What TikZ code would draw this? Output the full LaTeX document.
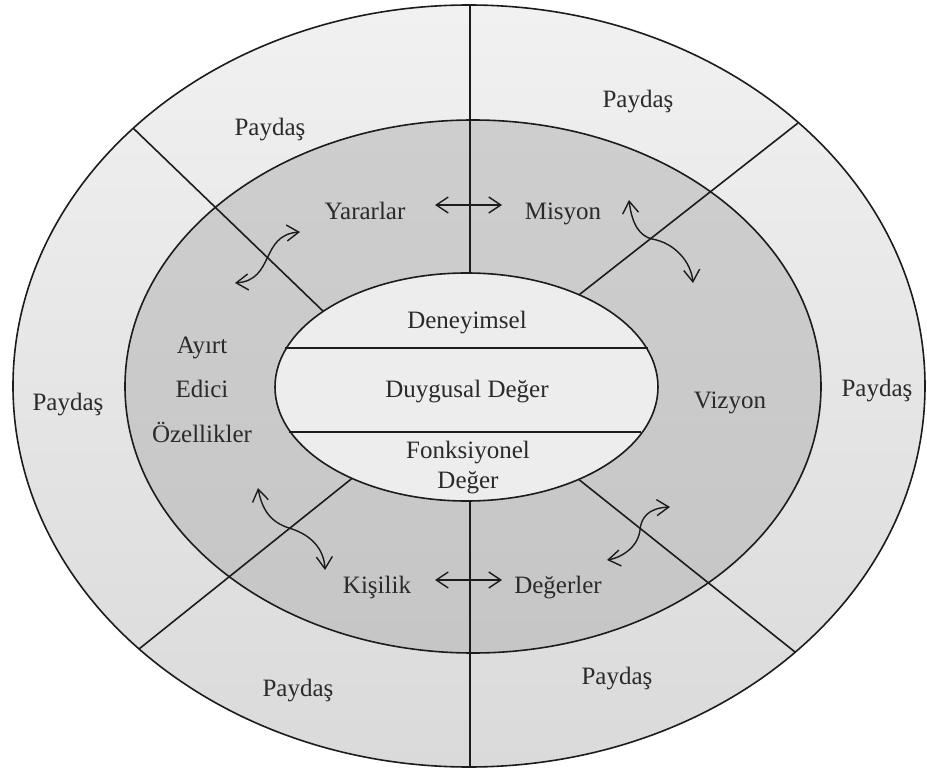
\documentclass[tikz,border=0pt]{standalone}
\usepackage{fontspec}
\setmainfont{Liberation Serif}
\usetikzlibrary{arrows.meta}
\definecolor{outerTop}{HTML}{F1F1F1}
\definecolor{outerBot}{HTML}{DADADA}
\definecolor{midTop}{HTML}{CECECE}
\definecolor{midBot}{HTML}{C6C6C6}
\definecolor{coreFill}{HTML}{EDEDED}
\definecolor{ink}{HTML}{1C1C1C}
\definecolor{txt}{HTML}{2A2A2A}
\begin{document}
\begin{tikzpicture}[x=1pt,y=-1pt,
  lbl/.style={font=\fontsize{25}{28}\selectfont, text=txt, inner sep=0pt, anchor=base},
  rim/.style={draw=ink, line width=1.6pt},
  divider/.style={draw=ink, line width=1.6pt},
  dblarrow/.style={draw=ink, line width=1.4pt, {Straight Barb[length=12pt,width=16pt]}-{Straight Barb[length=12pt,width=16pt]}}]
\useasboundingbox (0,0) rectangle (927,770);
% outer ring
\shade[top color=outerTop, bottom color=outerBot] (469,386) ellipse [x radius=456pt, y radius=381pt];
\draw[rim] (469,386) ellipse [x radius=456pt, y radius=381pt];
% middle ring
\shade[top color=midTop, bottom color=midBot] (473,386.5) ellipse [x radius=348pt, y radius=266.5pt];
\draw[rim] (473,386.5) ellipse [x radius=348pt, y radius=266.5pt];
% dividers
\coordinate (vt1) at (470,5);   \coordinate (vt2) at (470,280);
\coordinate (vb1) at (470,494); \coordinate (vb2) at (470,767);
\coordinate (ul1) at (133,128); \coordinate (ul2) at (325,313);
\coordinate (ur1) at (798,123); \coordinate (ur2) at (575,298);
\coordinate (ll1) at (139,649); \coordinate (ll2) at (355,476);
\coordinate (lr1) at (795,652); \coordinate (lr2) at (577,478);
\draw[divider] (vt1) -- (vt2);
\draw[divider] (vb1) -- (vb2);
\draw[divider] (ul1) -- (ul2);
\draw[divider] (ur1) -- (ur2);
\draw[divider] (ll1) -- (ll2);
\draw[divider] (lr1) -- (lr2);
% inner ellipse
\fill[coreFill] (466.5,387) ellipse [x radius=191.5pt, y radius=114pt];
\draw[rim] (466.5,387) ellipse [x radius=191.5pt, y radius=114pt];
\coordinate (h1a) at (285,348); \coordinate (h1b) at (648,348);
\coordinate (h2a) at (289,432); \coordinate (h2b) at (641,432);
\draw[divider] (h1a) -- (h1b);
\draw[divider] (h2a) -- (h2b);
% straight double arrows
\coordinate (ta) at (435,205); \coordinate (tb) at (502,205);
\coordinate (ba) at (435,580); \coordinate (bb) at (502,580);
\draw[dblarrow] (ta) -- (tb);
\draw[dblarrow] (ba) -- (bb);
% curved double arrows
\draw[dblarrow] (235,283) .. controls (275,280) and (260,235) .. (300,232);
\draw[dblarrow] (629,200) .. controls (632,225) and (640,236) .. (652,239) .. controls (675,243) and (691,262) .. (693,283);
\draw[dblarrow] (258,488) .. controls (263,515) and (275,524) .. (292,529) .. controls (310,535) and (324,548) .. (325,570);
\draw[dblarrow] (670,507) .. controls (648,508) and (641,518) .. (640,530) .. controls (638,548) and (620,558) .. (607,560);
% labels
\node[lbl] (p1) at (270,136) {Paydaş};
\node[lbl] (p2) at (638,108) {Paydaş};
\node[lbl] (p3) at (68,410) {Paydaş};
\node[lbl] (p4) at (877,396) {Paydaş};
\node[lbl] (p5) at (298,696) {Paydaş};
\node[lbl] (p6) at (617,684) {Paydaş};
\node[lbl] (yar) at (365,220) {Yararlar};
\node[lbl] (mis) at (563,220) {Misyon};
\node[lbl] (viz) at (730,408) {Vizyon};
\node[lbl] (ay1) at (202,353) {Ayırt};
\node[lbl] (ay2) at (202,397) {Edici};
\node[lbl] (ay3) at (202,442) {Özellikler};
\node[lbl] (den) at (467,329) {Deneyimsel};
\node[lbl] (duy) at (467,397) {Duygusal Değer};
\node[lbl] (fon1) at (468,458) {Fonksiyonel};
\node[lbl] (fon2) at (468,488) {Değer};
\node[lbl] (kis) at (377,593) {Kişilik};
\node[lbl] (deg) at (558,593) {Değerler};
\end{tikzpicture}
\end{document}
